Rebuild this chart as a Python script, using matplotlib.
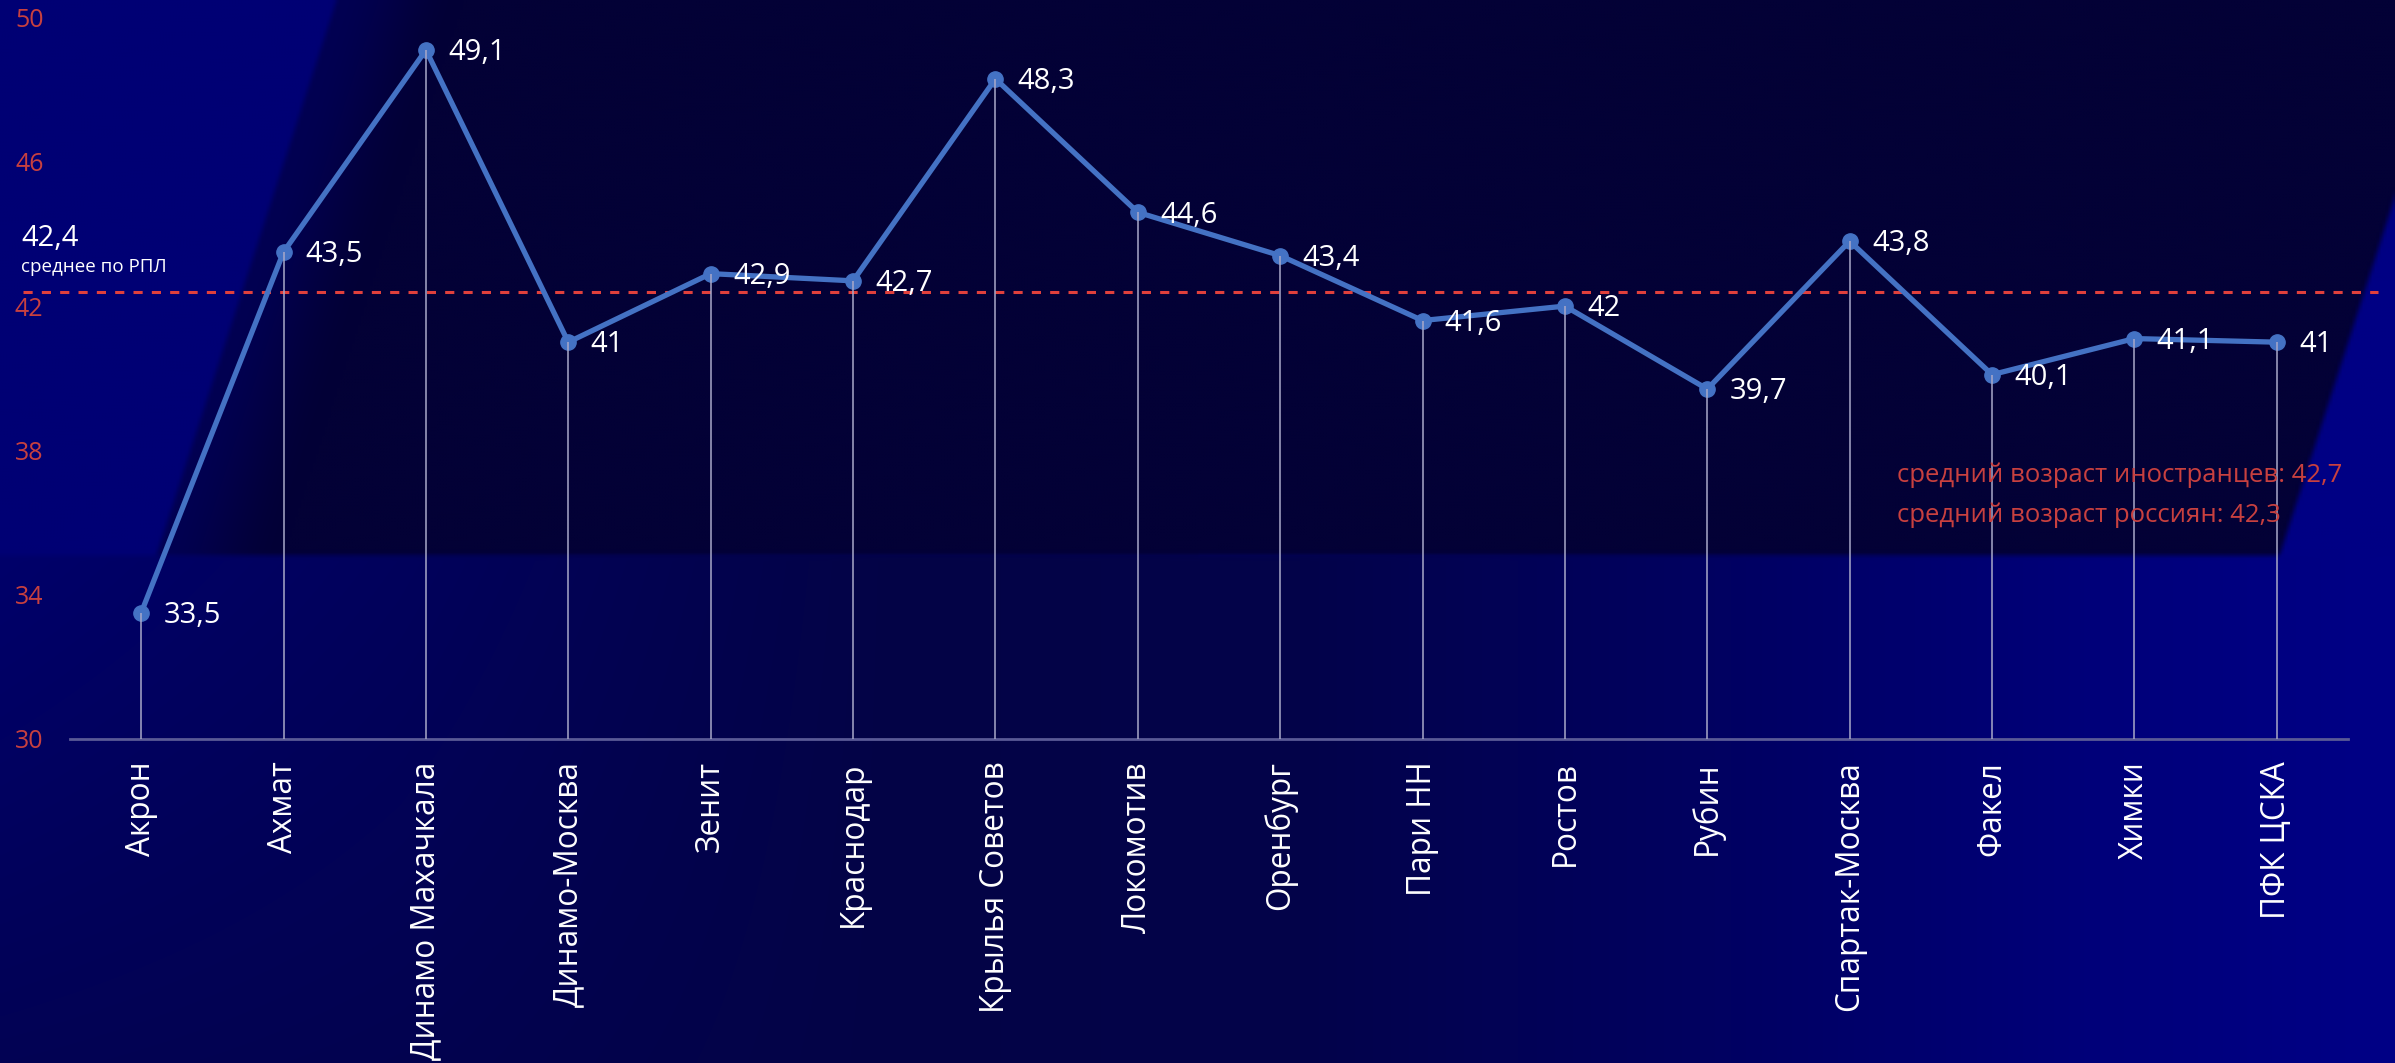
import numpy as np
import matplotlib
matplotlib.use("Agg")
import matplotlib.pyplot as plt

plt.rcParams['font.family'] = ['Open Sans', 'DejaVu Sans']

# ---- data ----
teams = ["Акрон", "Ахмат", "Динамо Махачкала", "Динамо-Москва", "Зенит", "Краснодар",
         "Крылья Советов", "Локомотив", "Оренбург", "Пари НН", "Ростов", "Рубин",
         "Спартак-Москва", "Факел", "Химки", "ПФК ЦСКА"]
ages = [33.5, 43.5, 49.1, 41.0, 42.9, 42.7, 48.3, 44.6, 43.4, 41.6, 42.0, 39.7,
        43.8, 40.1, 41.1, 41.0]
avg_rpl = 42.4
foreign_avg = 42.7
russian_avg = 42.3
yticks = [30, 34, 38, 42, 46, 50]


def fmt(v):
    return f"{v:g}".replace(".", ",")


W, H = 2395, 1063
fig = plt.figure(figsize=(W / 100, H / 100), dpi=100)

# ---- background ----
sc = 3
yy, xx = np.mgrid[0:H:sc, 0:W:sc].astype(float)


def smooth(d, w=5.0):
    t = np.clip((d + w) / (2 * w), 0, 1)
    return t * t * (3 - 2 * t)


tl = np.array([0, 0, 116.0])
rr = np.array([0, 0, 132.0])
dark = np.array([3, 1, 54.0])
lx = [0, 400, 900, 1300, 1700, 2100, 2395]
lb = [106, 92, 70, 74, 96, 122, 134]
lower_b = np.interp(xx, lx, lb)
lower_b = lower_b - np.clip((1 - xx / 900), 0, 1) * np.clip((yy - 555) / 508, 0, 1) * 22
lower = np.stack([np.clip((110 - lower_b) / 12, 0, 10),
                  np.clip((110 - lower_b) / 12, 0, 10), lower_b], axis=-1)
upper = np.where((xx < 1200)[..., None], tl, rr)
m_low = smooth(yy - 555, 4)[..., None]
base = upper * (1 - m_low) + lower * m_low

x_left_edge = 335 - (180 / 555) * yy
x_right_edge = 2280 + (555 - yy) * (115 / 358)
dl = (xx - x_left_edge) * 0.95
m_left = 0.55 * smooth(dl, 4) + 0.45 * smooth(dl - 60, 60)
mask = m_left * smooth((x_right_edge - xx) * 0.95, 4) * smooth(555 - yy, 4)
img = base * (1 - mask[..., None]) + dark * mask[..., None]
img = np.clip(img / 255.0, 0, 1)

bg = fig.add_axes([0, 0, 1, 1], zorder=-10)
bg.imshow(img, extent=[0, W, H, 0], aspect='auto', interpolation='bilinear')
bg.set_xlim(0, W)
bg.set_ylim(H, 0)
bg.axis('off')

# ---- main axes ----
ax = fig.add_axes([70 / W, 1 - 739 / H, 2278 / W, (739 - 17.5) / H])
ax.patch.set_alpha(0)
x = np.arange(len(teams))
ax.set_xlim(-0.5, len(teams) - 0.5)
ax.set_ylim(yticks[0], yticks[-1])

line_blue = '#4472C4'
ax.plot(x, ages, color=line_blue, lw=3.8, marker='o', ms=11,
        solid_capstyle='round', zorder=3)
ax.vlines(x, yticks[0], ages, color='#a8a8c8', lw=1.3, alpha=0.85, zorder=4)
ax.axhline(avg_rpl, xmin=-0.0206, xmax=1.0132, clip_on=False,
           color='#e0403c', lw=2.2, ls=(0, (3, 3)), zorder=2)

for xi, v in zip(x, ages):
    ax.annotate(fmt(v), (xi, v), xytext=(16, -2), textcoords='offset points',
                ha='left', va='center', color='white', fontsize=21, zorder=5)

ax.set_yticks(yticks)
ax.set_yticklabels([str(t) for t in yticks], color='#c8403f', fontsize=18)
ax.tick_params(axis='y', length=0, pad=19)
ax.set_xticks(x)
ax.set_xticklabels(teams, rotation=90, color='white', fontsize=22.7)
ax.tick_params(axis='x', length=0, pad=16)

for s in ['left', 'right', 'top']:
    ax.spines[s].set_visible(False)
ax.spines['bottom'].set_color('#5a5a96')
ax.spines['bottom'].set_linewidth(2)

# ---- annotations ----
fig.text(21 / W, 1 - 238 / H, fmt(avg_rpl), ha='left', va='center',
         fontsize=21, color='white')
fig.text(21 / W, 1 - 267 / H, 'среднее по РПЛ', ha='left', va='center',
         fontsize=13.5, color='white')
fig.text(1897 / W, 1 - 475 / H, f'средний возраст иностранцев: {fmt(foreign_avg)}',
         ha='left', va='center', fontsize=18.5, color='#c8403f')
fig.text(1897 / W, 1 - 515 / H, f'средний возраст россиян: {fmt(russian_avg)}',
         ha='left', va='center', fontsize=18.5, color='#c8403f')

fig.savefig('out.png', dpi=100)
